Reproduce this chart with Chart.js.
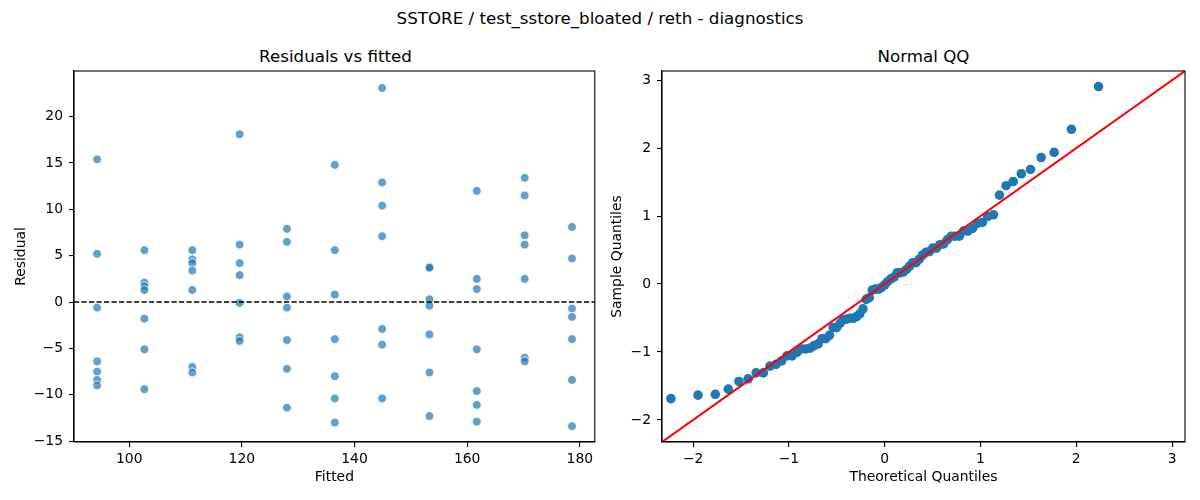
<!DOCTYPE html>
<html>
<head>
<meta charset="utf-8">
<script src="https://cdn.jsdelivr.net/npm/chart.js@4.4.1/dist/chart.umd.min.js"></script>
<style>
  body { margin: 0; background: #fff; }
  #wrap { position: relative; width: 1200px; height: 500px; font-family: "DejaVu Sans", sans-serif; color: #000; }
  .ttl { position: absolute; text-align: center; font-size: 16.7px; line-height: 20px; white-space: nowrap; }
  .panel { position: absolute; top: 0; width: 600px; height: 500px; }
</style>
</head>
<body>
<div id="wrap">
  <div class="ttl" style="left:0;top:8px;width:1200px;">SSTORE / test_sstore_bloated / reth - diagnostics</div>
  <div class="ttl" style="left:74px;top:46px;width:523px;">Residuals vs fitted</div>
  <div class="ttl" style="left:662px;top:46px;width:523px;">Normal QQ</div>
  <div class="panel" style="left:0;"><canvas id="residChart"></canvas></div>
  <div class="panel" style="left:600px;"><canvas id="qqChart"></canvas></div>
</div>
<script>
// fitted value of each group, and the residuals seen at that fitted value
var fittedLevels = [94.3, 102.7, 111.2, 119.6, 128.0, 136.5, 144.9, 153.3, 161.7, 170.2, 178.6];
var residualGroups = [
    [15.4, 5.2, -0.6, -6.4, -7.5, -8.4, -9.0],
    [5.6, 2.1, 1.7, 1.3, -1.8, -5.1, -9.4],
    [5.6, 4.6, 4.2, 3.4, 1.3, -7.0, -7.6],
    [18.1, 6.2, 4.2, 2.9, -0.1, -3.8, -4.2],
    [7.9, 6.5, 0.6, -0.6, -4.1, -7.2, -11.4],
    [14.8, 5.6, 0.8, -4.0, -8.0, -10.4, -13.0],
    [23.1, 12.9, 10.4, 7.1, -2.9, -4.6, -10.4],
    [3.8, 3.7, 0.3, -0.4, -3.5, -7.6, -12.3],
    [12.0, 2.5, 1.4, -5.1, -9.6, -11.1, -12.9],
    [13.4, 11.5, 7.2, 6.2, 2.5, -6.0, -6.4],
    [8.1, 4.7, -0.7, -1.6, -4.0, -8.4, -13.4]
];
var residXRange = [90.2, 182.65];
var residYRange = [-15.1, 24.93];
var residXTicks = [100, 120, 140, 160, 180];
var residYTicks = [-15, -10, -5, 0, 5, 10, 15, 20];

// normal QQ
var qqTheoretical = [
    -2.232, -1.949, -1.769, -1.633, -1.522, -1.426, -1.342, -1.267, -1.198, -1.135,
    -1.076, -1.020, -0.967, -0.917, -0.869, -0.823, -0.779, -0.736, -0.695, -0.655,
    -0.615, -0.577, -0.539, -0.502, -0.466, -0.431, -0.396, -0.361, -0.327, -0.293,
    -0.260, -0.227, -0.194, -0.161, -0.129, -0.097, -0.064, -0.032, 0.000,
    0.032, 0.064, 0.097, 0.129, 0.161, 0.194, 0.227, 0.260, 0.293, 0.327,
    0.361, 0.396, 0.431, 0.466, 0.502, 0.539, 0.577, 0.615, 0.655, 0.695,
    0.736, 0.779, 0.823, 0.869, 0.917, 0.967, 1.020, 1.076, 1.135, 1.198,
    1.267, 1.342, 1.426, 1.522, 1.633, 1.769, 1.949, 2.232
];
var qqSample = [
    -1.686, -1.635, -1.623, -1.547, -1.434, -1.396, -1.308, -1.308, -1.208, -1.182,
    -1.132, -1.057, -1.057, -1.006, -0.956, -0.956, -0.943, -0.906, -0.881, -0.805,
    -0.805, -0.755, -0.642, -0.642, -0.579, -0.528, -0.516, -0.503, -0.503, -0.478,
    -0.440, -0.365, -0.226, -0.201, -0.088, -0.075, -0.075, -0.050, -0.013,
    0.038, 0.075, 0.101, 0.164, 0.164, 0.176, 0.214, 0.264, 0.314, 0.314,
    0.365, 0.428, 0.465, 0.478, 0.528, 0.528, 0.579, 0.591, 0.654, 0.704,
    0.704, 0.704, 0.780, 0.780, 0.818, 0.893, 0.906, 0.994, 1.019, 1.308,
    1.447, 1.509, 1.623, 1.686, 1.862, 1.937, 2.277, 2.906
];
var qqRange = [-2.325, 3.135];
var qqTicks = [-2, -1, 0, 1, 2, 3];

Chart.defaults.font.family = '"DejaVu Sans", sans-serif';
Chart.defaults.color = '#000';

function minusLabel(v) {
    return v < 0 ? '\u2212' + Math.abs(v) : String(v);
}

// draw the full axes frame like matplotlib spines
var frame = {
    id: 'frame',
    afterDraw(chart) {
        let a = chart.chartArea;
        let ctx = chart.ctx;
        ctx.save();
        ctx.strokeStyle = '#000';
        ctx.lineWidth = 1.1;
        ctx.strokeRect(a.left, a.top, a.right - a.left, a.bottom - a.top);
        ctx.restore();
    }
};

function axis(range, ticks, title, horizontal, size, titlePad) {
    return {
        type: 'linear',
        min: range[0],
        max: range[1],
        afterBuildTicks: (scale) => { scale.ticks = ticks.map(v => ({ value: v })); },
        afterFit: (scale) => {
            if (horizontal) scale.height = size; else scale.width = size;
        },
        grid: { display: true, drawOnChartArea: false, drawTicks: true, tickLength: 5, color: '#000', lineWidth: 1.1 },
        border: { display: true, color: '#000', width: 1.1 },
        ticks: {
            font: { size: 13.9, lineHeight: 1.2 },
            color: '#000',
            padding: horizontal ? 4 : 6,
            maxRotation: 0,
            callback: minusLabel
        },
        title: {
            display: true,
            text: title,
            font: { size: 13.9, lineHeight: 1.2 },
            color: '#000',
            padding: titlePad
        }
    };
}

function residPoints() {
    let pts = [];
    for (let i = 0; i < fittedLevels.length; i++) {
        residualGroups[i].forEach(r => pts.push({ x: fittedLevels[i], y: r }));
    }
    return pts;
}

var residChart = new Chart(document.getElementById('residChart'), {
    type: 'scatter',
    data: {
        datasets: [{
            label: 'residuals',
            data: residPoints(),
            backgroundColor: 'rgba(31,119,180,0.7)',
            borderColor: '#fff',
            borderWidth: 0.8,
            pointRadius: 4.4,
            order: 2
        }, {
            type: 'line',
            label: 'zero',
            data: [{ x: residXRange[0], y: 0 }, { x: residXRange[1], y: 0 }],
            borderColor: '#000',
            borderWidth: 1.4,
            borderDash: [5.2, 2.3],
            pointRadius: 0,
            order: 1
        }]
    },
    options: {
        responsive: true,
        maintainAspectRatio: false,
        animation: false,
        layout: { padding: { top: 71, right: 3, left: 0, bottom: 0 } },
        plugins: { legend: { display: false }, tooltip: { enabled: false } },
        scales: {
            x: axis(residXRange, residXTicks, 'Fitted', true, 58, { top: 4, bottom: 14 }),
            y: axis(residYRange, residYTicks, 'Residual', false, 74, { top: 13, bottom: 0 })
        }
    },
    plugins: [frame]
});

var qqChart = new Chart(document.getElementById('qqChart'), {
    type: 'scatter',
    data: {
        datasets: [{
            label: 'quantiles',
            data: qqTheoretical.map((t, i) => ({ x: t, y: qqSample[i] })),
            backgroundColor: '#1f77b4',
            borderColor: '#1f77b4',
            borderWidth: 0,
            pointRadius: 4.8,
            order: 2
        }, {
            type: 'line',
            label: '45',
            data: [{ x: qqRange[0], y: qqRange[0] }, { x: qqRange[1], y: qqRange[1] }],
            borderColor: '#ff0000',
            borderWidth: 2,
            pointRadius: 0,
            order: 1
        }]
    },
    options: {
        responsive: true,
        maintainAspectRatio: false,
        animation: false,
        layout: { padding: { top: 71, right: 15, left: 0, bottom: 0 } },
        plugins: { legend: { display: false }, tooltip: { enabled: false } },
        scales: {
            x: axis(qqRange, qqTicks, 'Theoretical Quantiles', true, 58, { top: 4, bottom: 14 }),
            y: axis(qqRange, qqTicks, 'Sample Quantiles', false, 62, { top: 9, bottom: 0 })
        }
    },
    plugins: [frame]
});
</script>
</body>
</html>
